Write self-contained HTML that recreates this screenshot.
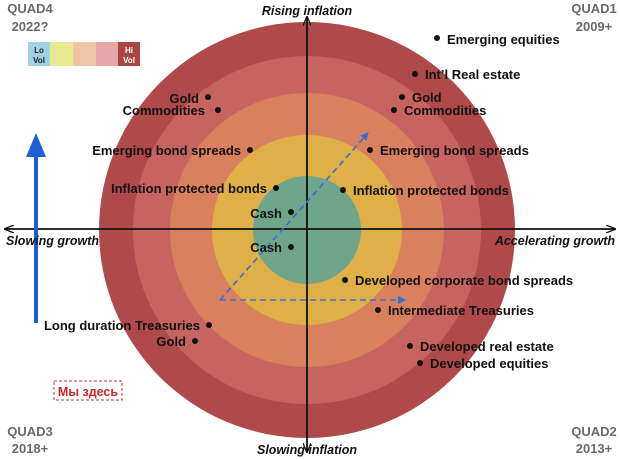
<!DOCTYPE html>
<html><head><meta charset="utf-8"><style>
html,body{margin:0;padding:0;background:#fff;}
svg{display:block;}
text{font-family:"Liberation Sans",sans-serif;}
.l{font-weight:bold;font-size:13px;fill:#111;}
.q{font-weight:bold;font-size:13px;fill:#6a6a6a;}
.ax{font-weight:bold;font-style:italic;font-size:12.5px;fill:#111;}
</style></head><body>
<svg width="620" height="459" viewBox="0 0 620 459" xmlns="http://www.w3.org/2000/svg">
<defs>
<marker id="ah" markerWidth="10" markerHeight="8" refX="9" refY="4" orient="auto" markerUnits="userSpaceOnUse"><path d="M0,0 L10,4 L0,8" fill="none" stroke="#111" stroke-width="1.3"/></marker>
<marker id="bh" markerWidth="8" markerHeight="8" refX="7" refY="4" orient="auto" markerUnits="userSpaceOnUse"><path d="M0,0 L8,4 L0,8 z" fill="#2a6fd8"/></marker>
</defs>
<circle cx="307" cy="230" r="208" fill="#b04a4a"/>
<circle cx="307" cy="230" r="174" fill="#c8645f"/>
<circle cx="307" cy="230" r="137" fill="#d9805e"/>
<circle cx="307" cy="230" r="95" fill="#e0b048"/>
<circle cx="307" cy="230" r="54" fill="#6fa58a"/>
<line x1="615" y1="229" x2="5" y2="229" stroke="#111" stroke-width="1.6" marker-end="url(#ah)"/>
<line x1="5" y1="229" x2="615" y2="229" stroke="#111" stroke-width="1.6" marker-end="url(#ah)"/>
<line x1="307" y1="452" x2="307" y2="17" stroke="#111" stroke-width="1.6" marker-end="url(#ah)"/>
<line x1="307" y1="17" x2="307" y2="452" stroke="#111" stroke-width="1.6" marker-end="url(#ah)"/>
<line x1="220" y1="300" x2="368" y2="133" stroke="#3a6fd8" stroke-width="1.6" stroke-dasharray="6,4" marker-end="url(#bh)"/>
<line x1="220" y1="300" x2="405" y2="300" stroke="#3a6fd8" stroke-width="1.6" stroke-dasharray="6,4" marker-end="url(#bh)"/>
<line x1="36" y1="323" x2="36" y2="155" stroke="#1f5fd6" stroke-width="4"/>
<path d="M26,157 L36,133 L46,157 z" fill="#1f5fd6"/>
<text class="ax" x="307" y="15" text-anchor="middle">Rising inflation</text>
<text class="ax" x="307" y="454" text-anchor="middle">Slowing inflation</text>
<text class="ax" x="6" y="245">Slowing growth</text>
<text class="ax" x="615" y="245" text-anchor="end">Accelerating growth</text>
<text class="q" x="30" y="13" text-anchor="middle">QUAD4</text>
<text class="q" x="30" y="31" text-anchor="middle">2022?</text>
<text class="q" x="594" y="13" text-anchor="middle">QUAD1</text>
<text class="q" x="594" y="31" text-anchor="middle">2009+</text>
<text class="q" x="30" y="436" text-anchor="middle">QUAD3</text>
<text class="q" x="30" y="453" text-anchor="middle">2018+</text>
<text class="q" x="594" y="436" text-anchor="middle">QUAD2</text>
<text class="q" x="594" y="453" text-anchor="middle">2013+</text>
<rect x="28" y="42" width="22" height="24" fill="#9fd3e3"/>
<rect x="50" y="42" width="23" height="24" fill="#e8ea90"/>
<rect x="73" y="42" width="23" height="24" fill="#f0c4a8"/>
<rect x="96" y="42" width="22" height="24" fill="#e4a6a6"/>
<rect x="118" y="42" width="22" height="24" fill="#ac4444"/>
<text x="39" y="53" text-anchor="middle" font-size="8" font-weight="bold" fill="#222">Lo</text>
<text x="39" y="63" text-anchor="middle" font-size="8" font-weight="bold" fill="#222">Vol</text>
<text x="129" y="53" text-anchor="middle" font-size="8" font-weight="bold" fill="#fff">Hi</text>
<text x="129" y="63" text-anchor="middle" font-size="8" font-weight="bold" fill="#fff">Vol</text>
<rect x="54" y="381" width="68" height="19" fill="none" stroke="#d03030" stroke-width="1" stroke-dasharray="3,2"/>
<text x="88" y="396" text-anchor="middle" font-size="12.5" font-weight="bold" fill="#c82828">Мы здесь</text>
<g fill="#111">
<circle cx="437" cy="38" r="3"/><circle cx="415" cy="74" r="3"/><circle cx="402" cy="97" r="3"/><circle cx="394" cy="110" r="3"/>
<circle cx="370" cy="150" r="3"/><circle cx="343" cy="190" r="3"/><circle cx="345" cy="280" r="3"/><circle cx="378" cy="310" r="3"/>
<circle cx="410" cy="346" r="3"/><circle cx="420" cy="363" r="3"/>
<circle cx="208" cy="97" r="3"/><circle cx="218" cy="110" r="3"/><circle cx="250" cy="150" r="3"/><circle cx="276" cy="188" r="3"/>
<circle cx="291" cy="212" r="3"/><circle cx="291" cy="247" r="3"/><circle cx="209" cy="325" r="3"/><circle cx="195" cy="341" r="3"/>
</g>
<text class="l" x="447" y="44">Emerging equities</text>
<text class="l" x="425" y="79">Int’l Real estate</text>
<text class="l" x="412" y="102">Gold</text>
<text class="l" x="404" y="115">Commodities</text>
<text class="l" x="380" y="155">Emerging bond spreads</text>
<text class="l" x="353" y="195">Inflation protected bonds</text>
<text class="l" x="355" y="285">Developed corporate bond spreads</text>
<text class="l" x="388" y="315">Intermediate Treasuries</text>
<text class="l" x="420" y="351">Developed real estate</text>
<text class="l" x="430" y="368">Developed equities</text>
<g text-anchor="end">
<text class="l" x="199" y="103">Gold</text>
<text class="l" x="205" y="115">Commodities</text>
<text class="l" x="241" y="155">Emerging bond spreads</text>
<text class="l" x="267" y="193">Inflation protected bonds</text>
<text class="l" x="282" y="218">Cash</text>
<text class="l" x="282" y="252">Cash</text>
<text class="l" x="200" y="330">Long duration Treasuries</text>
<text class="l" x="186" y="346">Gold</text>
</g>
</svg>
</body></html>
